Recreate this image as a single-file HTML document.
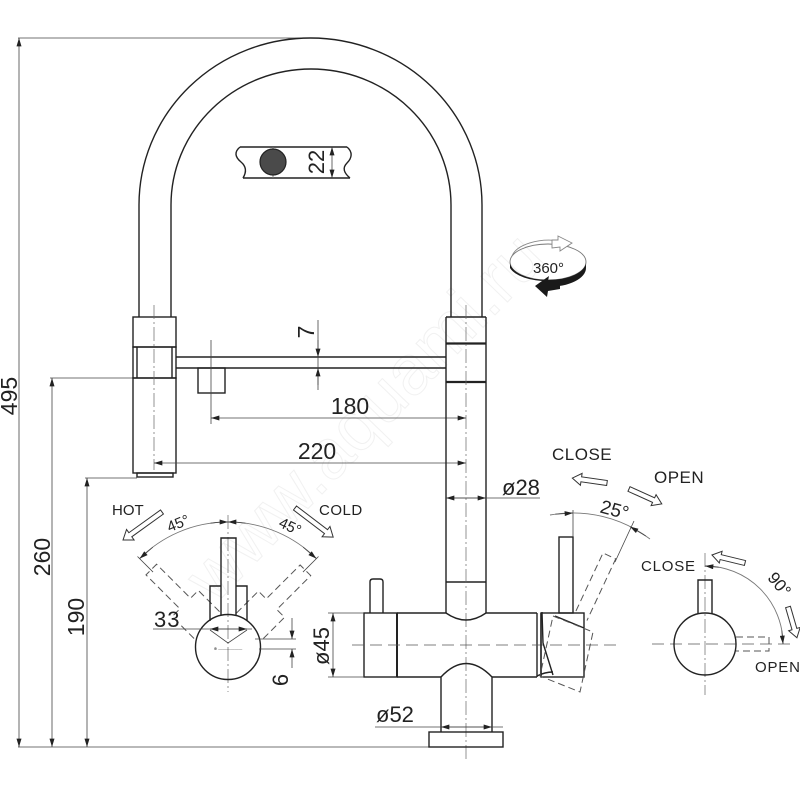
<!DOCTYPE html>
<html>
<head>
<meta charset="utf-8">
<style>
  html,body{margin:0;padding:0;background:#fff;}
  svg{display:block;}
  .o{stroke:#222;stroke-width:1.4;fill:none;}
  .d{stroke:#444;stroke-width:0.8;fill:none;}
  .g{stroke:#777;stroke-width:0.9;fill:none;}
  .c{stroke:#666;stroke-width:0.7;stroke-dasharray:14 3 2 3;fill:none;}
  .cd{stroke:#555;stroke-width:0.8;stroke-dasharray:12 6;fill:none;}
  .h{stroke:#555;stroke-width:1;stroke-dasharray:7 4;fill:none;}
  .ha{fill:#fff;stroke:#333;stroke-width:1;}
  text{font-family:"Liberation Sans",sans-serif;fill:#222;}
</style>
</head>
<body>
<svg width="800" height="800" viewBox="0 0 800 800" xmlns="http://www.w3.org/2000/svg">
<defs>
  <marker id="ar" viewBox="0 0 10 6" refX="10" refY="3" markerWidth="9" markerHeight="5" markerUnits="userSpaceOnUse" orient="auto-start-reverse">
    <path d="M0,0L10,3L0,6Z" fill="#222"/>
  </marker>
</defs>

<!-- watermark -->
<text transform="translate(215,605) rotate(-46)" font-size="70" stroke="#f1f1f1" stroke-width="1" style="fill:none">www.aquami.ru</text>

<!-- overall left dimensions -->
<line class="d" x1="18" y1="38" x2="312" y2="38"/>
<line class="d" x1="19" y1="38" x2="19" y2="747" marker-start="url(#ar)" marker-end="url(#ar)"/>
<text transform="translate(9,396) rotate(-90)" font-size="23" text-anchor="middle" y="8">495</text>

<line class="d" x1="50" y1="378" x2="133" y2="378"/>
<line class="d" x1="52" y1="378" x2="52" y2="747" marker-start="url(#ar)" marker-end="url(#ar)"/>
<text transform="translate(42,557) rotate(-90)" font-size="23" text-anchor="middle" y="8">260</text>

<line class="d" x1="85" y1="478" x2="137" y2="478"/>
<line class="d" x1="87" y1="478" x2="87" y2="747" marker-start="url(#ar)" marker-end="url(#ar)"/>
<text transform="translate(76,617) rotate(-90)" font-size="23" text-anchor="middle" y="8">190</text>

<line class="d" x1="18" y1="747" x2="430" y2="747"/>

<!-- arch hose -->
<path class="o" d="M139,317 L139,205 A171.5,167 0 0 1 482,205 L482,317"/>
<path class="o" d="M171,317 L171,205 A140,136 0 0 1 451,205 L451,317"/>

<!-- aerator detail -->
<path class="o" d="M240,147 L347,147 M243,178 L350,178"/>
<path class="o" d="M240,147 C234,152 235,157 241,162 C247,167 246,173 243,178"/>
<path class="o" d="M347,147 C353,152 352,158 347,163 C342,168 344,173 350,178"/>
<line class="g" x1="273" y1="147" x2="273" y2="178"/>
<circle cx="273" cy="162" r="13" fill="#4a4a4a" stroke="#222" stroke-width="1.2"/>
<line class="d" x1="332" y1="147" x2="332" y2="178" marker-start="url(#ar)" marker-end="url(#ar)"/>
<text transform="translate(316,162) rotate(-90)" font-size="22" text-anchor="middle" y="8">22</text>

<!-- left spray head -->
<rect class="o" x="133" y="317" width="43" height="30"/>
<rect class="o" x="133" y="347" width="43" height="31"/>
<line class="o" x1="137" y1="347" x2="137" y2="378"/>
<line class="o" x1="172" y1="347" x2="172" y2="378"/>
<rect class="o" x="133" y="378" width="43" height="95"/>
<rect class="o" x="137" y="473" width="36" height="4"/>
<line class="c" x1="154" y1="305" x2="154" y2="470"/>

<!-- hose bar -->
<line class="o" x1="176" y1="357" x2="446" y2="357"/>
<line class="o" x1="176" y1="368" x2="446" y2="368"/>
<rect class="o" x="198" y="368" width="27" height="25"/>

<!-- dim 7 -->
<line class="d" x1="318" y1="320" x2="318" y2="390"/>
<line class="d" x1="318" y1="340" x2="318" y2="357" marker-end="url(#ar)"/>
<line class="d" x1="318" y1="385" x2="318" y2="368" marker-end="url(#ar)"/>
<text transform="translate(306,332) rotate(-90)" font-size="23" text-anchor="middle" y="8">7</text>

<!-- dim 180 -->
<line class="d" x1="211" y1="340" x2="211" y2="424"/>
<line class="d" x1="211" y1="418" x2="466" y2="418" marker-start="url(#ar)" marker-end="url(#ar)"/>
<text x="350" y="414" font-size="23" text-anchor="middle">180</text>

<!-- dim 220 -->
<line class="d" x1="154" y1="463" x2="466" y2="463" marker-start="url(#ar)" marker-end="url(#ar)"/>
<text x="317" y="459" font-size="23" text-anchor="middle">220</text>

<!-- right column -->
<line class="o" x1="446" y1="317" x2="446" y2="613"/>
<line class="o" x1="486" y1="317" x2="486" y2="613"/>
<line class="o" x1="446" y1="317" x2="486" y2="317"/>
<line x1="446" y1="343.5" x2="486" y2="343.5" stroke="#222" stroke-width="2.2"/>
<line x1="446" y1="382" x2="486" y2="382" stroke="#222" stroke-width="2.2"/>
<line class="o" x1="446" y1="582" x2="486" y2="582"/>
<line class="c" x1="466" y1="305" x2="466" y2="762"/>

<!-- dim ø28 -->
<line class="d" x1="446" y1="498" x2="540" y2="498"/>
<line class="d" x1="466" y1="498" x2="446" y2="498" marker-end="url(#ar)"/>
<line class="d" x1="466" y1="498" x2="486" y2="498" marker-end="url(#ar)"/>
<text x="502" y="495" font-size="22">ø28</text>

<!-- main body -->
<rect class="o" x="364" y="613" width="33" height="64"/>
<line x1="397" y1="613" x2="397" y2="677" stroke="#222" stroke-width="2"/>
<path class="o" d="M397,613 L446,613 Q466,627 486,613 L537,613"/>
<path class="o" d="M397,677 L441,677 M492,677 L537,677"/>
<path class="o" d="M441,732 L441,677 Q466,650 492,677 L492,732"/>
<line class="o" x1="537" y1="613" x2="537" y2="677"/>
<line class="o" x1="541" y1="613" x2="541" y2="677"/>
<rect class="o" x="429" y="732" width="74" height="15"/>
<path class="o" d="M370,613 L370,582 Q370,579 373,579 L380,579 Q383,579 383,582 L383,613"/>
<line class="cd" x1="352" y1="645" x2="618" y2="645"/>

<!-- dim ø45 -->
<line class="d" x1="328" y1="613" x2="364" y2="613"/>
<line class="d" x1="328" y1="677" x2="364" y2="677"/>
<line class="d" x1="333" y1="613" x2="333" y2="677" marker-start="url(#ar)" marker-end="url(#ar)"/>
<text transform="translate(321,646) rotate(-90)" font-size="22" text-anchor="middle" y="8">ø45</text>

<!-- dim ø52 -->
<line class="d" x1="375" y1="727" x2="503" y2="727"/>
<line class="d" x1="466" y1="727" x2="441" y2="727" marker-end="url(#ar)"/>
<line class="d" x1="466" y1="727" x2="492" y2="727" marker-end="url(#ar)"/>
<text x="376" y="722" font-size="22">ø52</text>

<!-- right lever (side) -->
<rect class="o" x="559" y="537" width="14" height="76"/>
<rect class="o" x="541" y="613" width="43" height="64"/>
<path class="o" d="M542,612 L543,643 L553,675"/>
<path class="o" d="M555,616 L584,628"/>
<path class="o" d="M537,676 Q545,672 553,672"/>
<path class="h" d="M553,616 L593,632 L580,692 L540,676 Z"/>
<path class="h" transform="translate(603,553) rotate(25)" d="M0,64 L0,0 L14,0 L14,68"/>
<line class="d" x1="573" y1="510" x2="573" y2="537"/>
<line class="d" x1="615" y1="562" x2="634" y2="521"/>
<path class="g" d="M550,515 A127,127 0 0 1 650,539"/>
<path class="d" d="M555.3,514.2 L573,513" marker-end="url(#ar)"/>
<path class="d" d="M645.8,536 L630,526.6" marker-end="url(#ar)"/>
<text transform="translate(613,516) rotate(15)" font-size="19" text-anchor="middle">25°</text>

<!-- CLOSE / OPEN top -->
<text x="552" y="460" font-size="17" letter-spacing="0.5">CLOSE</text>
<text x="654" y="483" font-size="17" letter-spacing="0.5">OPEN</text>
<polygon class="ha" transform="translate(607,483) rotate(188.1)" points="0,-2.5 26,-2.5 26,-6 35,0 26,6 26,2.5 0,2.5"/>
<polygon class="ha" transform="translate(629,489) rotate(24.4)" points="0,-2.5 27,-2.5 27,-6 36,0 27,6 27,2.5 0,2.5"/>

<!-- right-most view 90° -->
<line class="c" x1="705" y1="553" x2="705" y2="695"/>
<line class="cd" x1="652" y1="644" x2="790" y2="644"/>
<circle class="o" cx="705" cy="644" r="31"/>
<path class="o" d="M698,614 L698,580 L712,580 L712,614"/>
<path class="h" d="M736,637 L769,637 L769,651 L736,651"/>
<path class="g" d="M705,566 A78,78 0 0 1 783,644"/>
<path class="d" d="M718.5,567.2 L705,566" marker-end="url(#ar)"/>
<path class="d" d="M781.8,630.5 L783,644" marker-end="url(#ar)"/>
<text transform="translate(775,588) rotate(50)" font-size="17" text-anchor="middle">90°</text>
<text x="641" y="571" font-size="15" letter-spacing="0.8">CLOSE</text>
<text x="755" y="672" font-size="15" letter-spacing="0.8">OPEN</text>
<polygon class="ha" transform="translate(745,563) rotate(193.6)" points="0,-2.5 25,-2.5 25,-6 34,0 25,6 25,2.5 0,2.5"/>
<polygon class="ha" transform="translate(788,607) rotate(73.8)" points="0,-2.5 23,-2.5 23,-6 32,0 23,6 23,2.5 0,2.5"/>

<!-- HOT / COLD view -->
<line class="c" x1="228" y1="515" x2="228" y2="692"/>
<g transform="translate(228,647)">
  <g transform="rotate(-45)">
    <path class="h" d="M-18,-30 L-18,-61 L-7,-61 L-7,-109 L8,-109 L8,-61 L19,-61 L19,-30"/>
    <line class="d" x1="0" y1="-106" x2="0" y2="-128"/>
  </g>
  <g transform="rotate(45)">
    <path class="h" d="M-18,-30 L-18,-61 L-7,-61 L-7,-109 L8,-109 L8,-61 L19,-61 L19,-30"/>
    <line class="d" x1="0" y1="-106" x2="0" y2="-128"/>
  </g>
</g>
<path class="o" d="M221,615 L221,538 L236,538 L236,615"/>
<path class="o" d="M210,621 L210,586 L221,586 M236,586 L247,586 L247,621"/>
<circle class="o" cx="228" cy="647" r="32.5" fill="#fff"/>
<path class="d" d="M210,630 L228,643 L247,630"/>
<text x="228" y="650" font-size="4" text-anchor="middle" fill="#666">⊕ ——————</text>
<path class="g" d="M139.6,558.6 A125,125 0 0 1 316.4,558.6"/>
<path class="d" d="M210.6,523.2 A125,125 0 0 1 228,522" marker-end="url(#ar)"/>
<path class="d" d="M245.4,523.2 A125,125 0 0 0 228,522" marker-end="url(#ar)"/>
<path class="d" d="M152.8,547.2 L139.6,558.6" marker-end="url(#ar)"/>
<path class="d" d="M303.2,547.2 L316.4,558.6" marker-end="url(#ar)"/>
<text transform="translate(180,528) rotate(-22)" font-size="15" text-anchor="middle">45°</text>
<text transform="translate(288,531) rotate(25)" font-size="15" text-anchor="middle">45°</text>
<text x="112" y="515" font-size="15">HOT</text>
<text x="319" y="515" font-size="15" letter-spacing="0.5">COLD</text>
<polygon class="ha" transform="translate(162,512) rotate(144.3)" points="0,-2.5 39,-2.5 39,-6.5 48,0 39,6.5 39,2.5 0,2.5"/>
<polygon class="ha" transform="translate(295,508) rotate(37.3)" points="0,-2.5 39,-2.5 39,-6.5 48,0 39,6.5 39,2.5 0,2.5"/>

<!-- dim 33 -->
<line class="d" x1="153" y1="629" x2="252" y2="629"/>
<line class="d" x1="228" y1="629" x2="210" y2="629" marker-end="url(#ar)"/>
<line class="d" x1="228" y1="629" x2="247" y2="629" marker-end="url(#ar)"/>
<text x="154" y="627" font-size="22" letter-spacing="1">33</text>

<!-- dim 6 -->
<line class="d" x1="255" y1="639" x2="296" y2="639"/>
<line class="d" x1="259" y1="649" x2="296" y2="649"/>
<line class="d" x1="292" y1="618" x2="292" y2="639" marker-end="url(#ar)"/>
<line class="d" x1="292" y1="668" x2="292" y2="649" marker-end="url(#ar)"/>
<text transform="translate(280,680) rotate(-90)" font-size="22" text-anchor="middle" y="8">6</text>

<!-- 360° icon -->
<ellipse cx="548" cy="262" rx="38" ry="18" fill="none" stroke="#777" stroke-width="0.9"/>
<path d="M512,256 A38,20 0 0 1 560,241" fill="none" stroke="#888" stroke-width="0.9"/>
<polygon points="558,236 572,243 560,251 560,247 552,248 552,240 558,240" fill="#fff" stroke="#888" stroke-width="0.9"/>
<path d="M510,262 A38,18 0 0 0 586,262 L586,268 A38,19 0 0 1 548,287 L548,281 A38,18 0 0 1 510,268 Z" fill="#1a1a1a"/>
<polygon points="535,286 549,276 548,281 560,283 560,289 548,291 547,297" fill="#1a1a1a"/>
<text x="533" y="273" font-size="15" fill="#444">360°</text>

</svg>
</body>
</html>
